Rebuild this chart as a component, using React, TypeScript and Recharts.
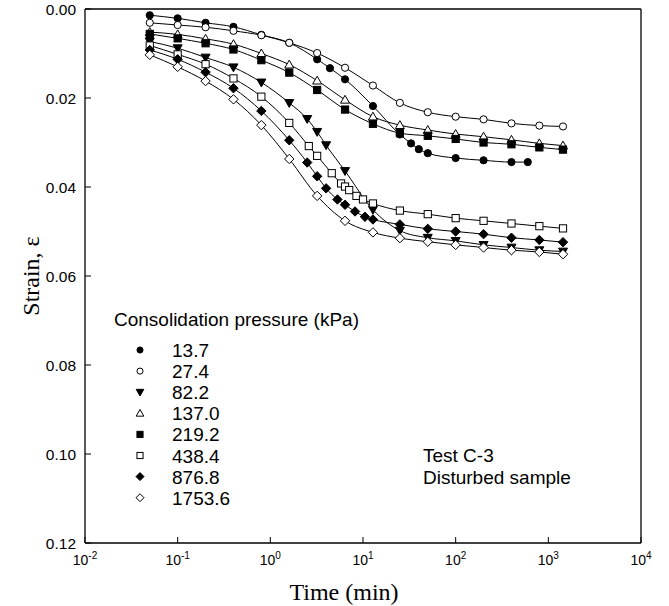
import React from 'react'
import { ComposedChart, Line, XAxis, YAxis, Legend } from 'recharts'

// time (min) and strain for each consolidation pressure
const times13_7 = [0.05, 0.1, 0.2, 0.4, 0.8, 1.6, 3.2, 4.4, 6.4, 12.8, 25, 33, 40, 50, 100, 200, 400, 600]
const strain13_7 = [0.0014, 0.0021, 0.0031, 0.004, 0.0058, 0.0076, 0.0113, 0.0133, 0.0158, 0.0218, 0.0282, 0.0302, 0.0315, 0.0324, 0.0335, 0.034, 0.0344, 0.0344]

const timesStd = [0.05, 0.1, 0.2, 0.4, 0.8, 1.6, 3.2, 6.4, 12.8, 25, 50, 100, 200, 400, 800, 1440]
const strain27_4 = [0.0031, 0.0036, 0.0041, 0.0049, 0.0059, 0.0076, 0.0099, 0.0132, 0.0172, 0.0211, 0.0232, 0.0242, 0.0248, 0.0257, 0.0262, 0.0264]
const strain137_0 = [0.0052, 0.0057, 0.0067, 0.0079, 0.01, 0.0125, 0.0161, 0.0204, 0.0242, 0.0261, 0.0272, 0.0281, 0.0287, 0.0294, 0.0302, 0.0307]
const strain219_2 = [0.0056, 0.0066, 0.0077, 0.0091, 0.0115, 0.0143, 0.0182, 0.0226, 0.0258, 0.0279, 0.0285, 0.0292, 0.03, 0.0304, 0.0311, 0.0316]
const strain1753_6 = [0.0103, 0.013, 0.0162, 0.0203, 0.0261, 0.0337, 0.042, 0.0476, 0.0502, 0.0515, 0.0523, 0.053, 0.0536, 0.0542, 0.0546, 0.0551]

const times82_2 = [0.05, 0.1, 0.2, 0.4, 0.8, 1.6, 2.5, 3.2, 4, 6.4, 12.8, 25, 50, 100, 200, 400, 800, 1440]
const strain82_2 = [0.0073, 0.0088, 0.0109, 0.0131, 0.0165, 0.0211, 0.0247, 0.0276, 0.0306, 0.0364, 0.0451, 0.0498, 0.0514, 0.0521, 0.053, 0.0536, 0.0542, 0.0545]

const times438_4 = [0.05, 0.1, 0.2, 0.4, 0.8, 1.6, 2.6, 3.2, 4.6, 5.8, 6.4, 7.1, 8.5, 10, 12.8, 25, 50, 100, 200, 400, 800, 1440]
const strain438_4 = [0.0082, 0.0102, 0.0124, 0.0156, 0.0197, 0.0256, 0.0308, 0.033, 0.0369, 0.0392, 0.0399, 0.0407, 0.042, 0.0428, 0.0437, 0.0453, 0.0461, 0.047, 0.0476, 0.0482, 0.0488, 0.0493]

const times876_8 = [0.05, 0.1, 0.2, 0.4, 0.8, 1.6, 2.5, 3.2, 4, 5.3, 6.4, 8.2, 10.5, 12.8, 25, 50, 100, 200, 400, 800, 1440]
const strain876_8 = [0.0092, 0.0113, 0.0142, 0.0178, 0.0229, 0.0295, 0.0345, 0.0376, 0.0403, 0.0428, 0.044, 0.0455, 0.0467, 0.0473, 0.0484, 0.0494, 0.05, 0.0506, 0.0514, 0.0519, 0.0524]

const xTicks = [0.01, 0.1, 1, 10, 100, 1000, 10000]
const yTicks = [0, 0.02, 0.04, 0.06, 0.08, 0.1, 0.12]

type Shape = 'circle' | 'triangleDown' | 'triangle' | 'square' | 'diamond'

const zip = (ts: number[], ss: number[]) => ts.map((t, i) => ({ t, s: ss[i] }))

const series = [
  { name: '13.7', shape: 'circle' as Shape, filled: true, data: zip(times13_7, strain13_7) },
  { name: '27.4', shape: 'circle' as Shape, filled: false, data: zip(timesStd, strain27_4) },
  { name: '82.2', shape: 'triangleDown' as Shape, filled: true, data: zip(times82_2, strain82_2) },
  { name: '137.0', shape: 'triangle' as Shape, filled: false, data: zip(timesStd, strain137_0) },
  { name: '219.2', shape: 'square' as Shape, filled: true, data: zip(timesStd, strain219_2) },
  { name: '438.4', shape: 'square' as Shape, filled: false, data: zip(times438_4, strain438_4) },
  { name: '876.8', shape: 'diamond' as Shape, filled: true, data: zip(times876_8, strain876_8) },
  { name: '1753.6', shape: 'diamond' as Shape, filled: false, data: zip(timesStd, strain1753_6) },
]

const SANS = '"Liberation Sans", Arial, sans-serif'
const SERIF = '"Liberation Serif", "Times New Roman", serif'

function Marker({ cx, cy, shape, filled, scale = 1 }: { cx: number; cy: number; shape: Shape; filled: boolean; scale?: number }) {
  const fill = filled ? '#000' : '#fff'
  const common = { fill, stroke: '#000', strokeWidth: 1 }
  if (shape === 'circle') return <circle cx={cx} cy={cy} r={3.6 * scale} {...common} />
  if (shape === 'square') {
    const h = 3.6 * scale
    return <rect x={cx - h} y={cy - h} width={2 * h} height={2 * h} {...common} />
  }
  if (shape === 'diamond') {
    const h = 4.7 * scale
    return <path d={`M${cx},${cy - h}L${cx + h},${cy}L${cx},${cy + h}L${cx - h},${cy}Z`} {...common} />
  }
  const h = 4.5 * scale
  if (shape === 'triangle')
    return <path d={`M${cx},${cy - h}L${cx + h},${cy + h * 0.75}L${cx - h},${cy + h * 0.75}Z`} {...common} />
  return <path d={`M${cx},${cy + h}L${cx + h},${cy - h * 0.75}L${cx - h},${cy - h * 0.75}Z`} {...common} />
}

const XTick = ({ x, payload }: any) => {
  const exp = Math.round(Math.log10(payload.value))
  return (
    <text x={x} y={565} textAnchor="middle" fontFamily={SANS} fontSize={14} fill="#000">
      10
      <tspan dy={-6} fontSize={10}>
        {exp}
      </tspan>
    </text>
  )
}

const renderLegend = () => (
  <svg width={270} height={220} style={{ display: 'block' }}>
    <text x={14} y={32} fontFamily={SANS} fontSize={19} fill="#000">
      Consolidation pressure (kPa)
    </text>
    {series.map((s, i) => {
      const cy = 56 + i * 21.1
      return (
        <g key={s.name}>
          <Marker cx={40} cy={cy} shape={s.shape} filled={s.filled} scale={0.85} />
          <text x={72} y={cy + 7} fontFamily={SANS} fontSize={19} fill="#000">
            {s.name}
          </text>
        </g>
      )
    })}
  </svg>
)

export default function App() {
  return (
    <div style={{ position: 'absolute', left: 0, top: 0, width: 669, height: 606, background: '#fff' }}>
      <ComposedChart width={669} height={606} margin={{ top: 8, right: 27, bottom: 23, left: 25 }}>
        <XAxis
          dataKey="t"
          type="number"
          scale="log"
          domain={[0.01, 10000]}
          ticks={xTicks}
          allowDataOverflow
          height={40}
          tick={<XTick />}
          tickSize={-6}
          axisLine={{ stroke: '#000', strokeWidth: 1.3 }}
          tickLine={{ stroke: '#000' }}
          label={() => (
            <text x={344} y={600} textAnchor="middle" fontFamily={SERIF} fontSize={24} fill="#000">
              Time (min)
            </text>
          )}
        />
        <XAxis
          xAxisId="top"
          orientation="top"
          type="number"
          scale="log"
          domain={[0.01, 10000]}
          ticks={xTicks}
          allowDataOverflow
          height={1}
          tick={false}
          tickSize={-6}
          axisLine={{ stroke: '#000', strokeWidth: 1.3 }}
          tickLine={{ stroke: '#000' }}
        />
        <YAxis
          type="number"
          domain={[0, 0.12]}
          ticks={yTicks}
          reversed
          allowDataOverflow
          width={60}
          tickSize={-6}
          tickMargin={15}
          tickFormatter={(v: number) => v.toFixed(2)}
          tick={{ fill: '#000', fontSize: 15.5, fontFamily: SANS }}
          axisLine={{ stroke: '#000', strokeWidth: 1.3 }}
          tickLine={{ stroke: '#000' }}
          label={() => (
            <text
              x={39}
              y={276}
              transform="rotate(-90 39 276)"
              textAnchor="middle"
              fontFamily={SERIF}
              fontSize={24}
              fill="#000"
            >
              Strain, ε
            </text>
          )}
        />
        <YAxis
          yAxisId="right"
          orientation="right"
          type="number"
          domain={[0, 0.12]}
          ticks={yTicks}
          reversed
          allowDataOverflow
          width={1}
          tick={false}
          tickSize={-6}
          axisLine={{ stroke: '#000', strokeWidth: 1.3 }}
          tickLine={{ stroke: '#000' }}
          label={() => (
            <g fontFamily={SANS} fontSize={19} fill="#000">
              <text x={423} y={462}>Test C-3</text>
              <text x={423} y={484}>Disturbed sample</text>
            </g>
          )}
        />
        <Legend
          layout="vertical"
          align="center"
          verticalAlign="middle"
          content={renderLegend}
          wrapperStyle={{ left: 100, top: 294, width: 270, height: 220 }}
        />
        {series.map((s) => (
          <Line
            key={s.name}
            name={s.name}
            data={s.data}
            dataKey="s"
            type="monotone"
            stroke="#000"
            strokeWidth={1}
            isAnimationActive={false}
            activeDot={false}
            dot={(p: any) => (
              <Marker key={`${s.name}-${p.index}`} cx={p.cx} cy={p.cy} shape={s.shape} filled={s.filled} />
            )}
          />
        ))}
      </ComposedChart>
    </div>
  )
}
